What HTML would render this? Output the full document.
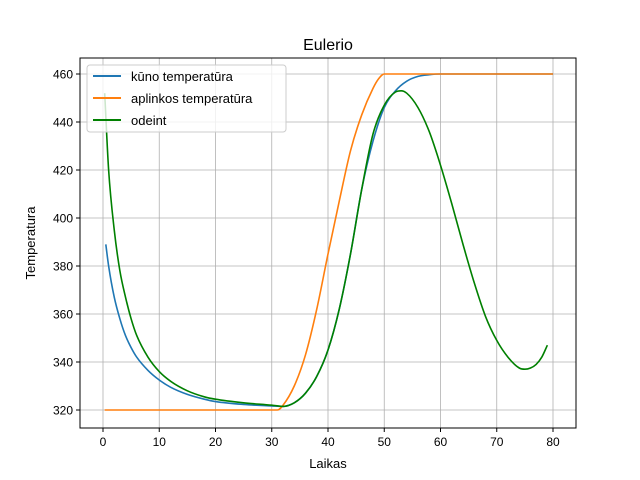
<!DOCTYPE html>
<html><head><meta charset="utf-8"><style>
body{margin:0;background:#fff}
svg{display:block;font-family:"Liberation Sans","DejaVu Sans",sans-serif}
</style></head><body>
<svg id="chart" width="640" height="480">
<rect width="640" height="480" fill="#fff"/>
<g id="grid"></g>
<g id="ticks"></g>
<g id="series"></g>
<rect x="80" y="58" width="496" height="370" fill="none" stroke="#000" stroke-width="1"/>
<text x="328" y="50" font-size="16" text-anchor="middle">Eulerio</text>
<text x="328" y="468" font-size="13" text-anchor="middle">Laikas</text>
<text transform="translate(35,243) rotate(-90)" font-size="13" text-anchor="middle">Temperatura</text>
<g>
<rect x="87" y="65" width="199" height="67" rx="3" fill="#fff" fill-opacity="0.8" stroke="#ccc"/>
<g><line x1="93" y1="76" x2="121" y2="76" stroke="#1f77b4" stroke-width="2"/><text x="131" y="81" font-size="13">kūno temperatūra</text></g>
<g><line x1="93" y1="98" x2="121" y2="98" stroke="#ff7f0e" stroke-width="2"/><text x="131" y="103" font-size="13">aplinkos temperatūra</text></g>
<g><line x1="93" y1="120" x2="121" y2="120" stroke="#008000" stroke-width="2"/><text x="131" y="125" font-size="13">odeint</text></g>
</g>
</svg>
<script>
const xTicks=[0,10,20,30,40,50,60,70,80];
const yTicks=[320,340,360,380,400,420,440,460];
const blueT=[0.5,1,2,3,4,5,6,8,10,12,15,18,20,25,30,32,34,36,38,40,42,44,46,48,50,52,54,56,58,60,65,70,75,80];
const blueV=[389,380,367,358,351,346,342,336.5,332.5,329.5,326.5,324.5,323.5,322.3,321.7,321.5,323,327,334,345,362,385,412,432,446,453,457,459,459.7,460,460,460,460,460];
const orangeT=[0.3,31,32,34,36,38,40,42,44,46,48,49,50,80];
const orangeV=[320,320,322,330,343,362,385,407,428,443,454,458,460,460];
const greenT=[0.3,1,2,3,4,5,6,8,10,12,15,18,20,25,30,32,34,36,38,40,42,44,46,48,50,52,53,54,56,58,60,62,64,66,68,70,72,74,75,76,77,78,79];
const greenV=[452,420,395,378,367,358,351,342,336,332,328,325.5,324.5,323,322,321.5,323,327,334,345,362,385,412,435,447,452.5,453,452,446,436,422,406,389,373,359,349,342,337.5,337,337.5,339,342,347];
const X=v=>103+v*5.625, Y=v=>410-(v-320)*2.4;
const NS="http://www.w3.org/2000/svg";
const grid=document.getElementById('grid'),ticks=document.getElementById('ticks'),series=document.getElementById('series');
function mk(tag,attrs,parent){const e=document.createElementNS(NS,tag);for(const k in attrs)e.setAttribute(k,attrs[k]);parent.appendChild(e);return e;}
xTicks.forEach(t=>{
  const g=mk('line',{x1:X(t),x2:X(t),y1:58,y2:428,stroke:'#b0b0b0','stroke-width':0.8},grid);
  
  
  mk('line',{x1:X(t),x2:X(t),y1:428,y2:432,stroke:'#000'},ticks);
  const tx=mk('text',{x:X(t),y:446,'font-size':12,'text-anchor':'middle'},ticks);tx.textContent=t;
  
  
});
yTicks.forEach(t=>{
  const g=mk('line',{x1:80,x2:576,y1:Y(t),y2:Y(t),stroke:'#b0b0b0','stroke-width':0.8},grid);
  
  
  mk('line',{x1:76,x2:80,y1:Y(t),y2:Y(t),stroke:'#000'},ticks);
  const tx=mk('text',{x:73,y:Y(t)+4.5,'font-size':12,'text-anchor':'end'},ticks);tx.textContent=t;
  
  
});
function monoPath(T,V){
  const xs=T.map(X),ys=V.map(Y),n=xs.length;
  const d=[],m=new Array(n);
  for(let i=0;i<n-1;i++)d.push((ys[i+1]-ys[i])/(xs[i+1]-xs[i]));
  m[0]=d[0];m[n-1]=d[n-2];
  for(let i=1;i<n-1;i++)m[i]=(d[i-1]*d[i]<=0)?0:(d[i-1]+d[i])/2;
  for(let i=0;i<n-1;i++){
    if(d[i]===0){m[i]=0;m[i+1]=0;continue;}
    const a=m[i]/d[i],b=m[i+1]/d[i],s=a*a+b*b;
    if(s>9){const t=3/Math.sqrt(s);m[i]=t*a*d[i];m[i+1]=t*b*d[i];}
  }
  let p='M'+xs[0]+','+ys[0];
  for(let i=0;i<n-1;i++){
    const h=(xs[i+1]-xs[i])/3;
    p+=' C'+(xs[i]+h)+','+(ys[i]+m[i]*h)+' '+(xs[i+1]-h)+','+(ys[i+1]-m[i+1]*h)+' '+xs[i+1]+','+ys[i+1];
  }
  return p;
}
function line(T,V,color,name){
  const p=mk('path',{d:monoPath(T,V),fill:'none',stroke:color,'stroke-width':1.6,'stroke-linejoin':'round'},series);
  
  
}
line(blueT,blueV,'#1f77b4','line-kuno-temperatura');
line(orangeT,orangeV,'#ff7f0e','line-aplinkos-temperatura');
line(greenT,greenV,'#008000','line-odeint');
</script>
</body></html>
